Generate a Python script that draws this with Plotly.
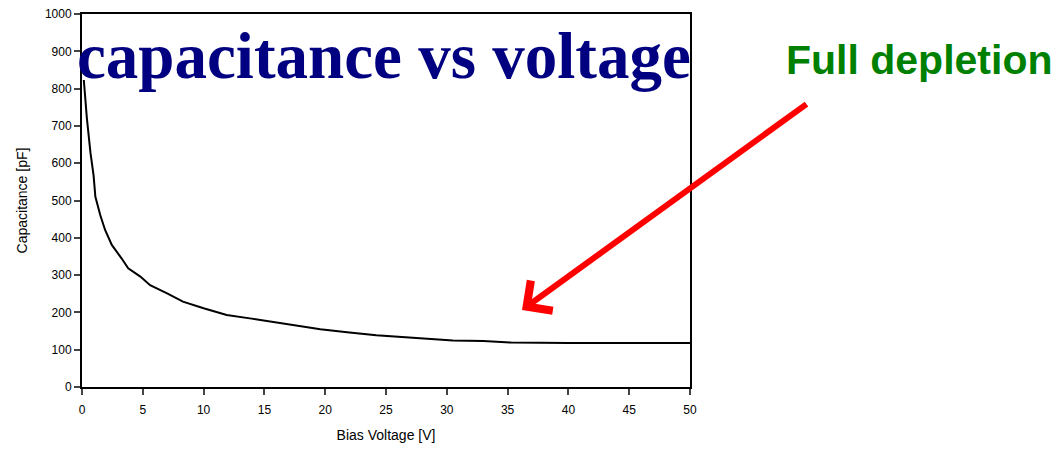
import plotly.graph_objects as go

bias_voltage = [0.15, 0.4, 0.7, 0.95, 1.1, 1.5, 1.9, 2.45, 3.25, 3.8, 4.8, 5.6, 7.0, 8.3, 10.0, 11.9,
                13.8, 16.0, 17.6, 19.6, 21.8, 24.2, 27.2, 30.5, 33.0, 35.3, 40.0, 45.0, 50.0]
capacitance = [823, 721, 627, 568, 510, 461, 421, 381, 345, 318, 296, 273, 251, 229, 211, 193,
               184, 173, 164, 155, 147, 139, 132, 125, 123, 119, 118, 118, 118]

x_ticks = list(range(0, 51, 5))
y_ticks = list(range(0, 1001, 100))

fig = go.Figure()
fig.add_trace(go.Scatter(x=bias_voltage, y=capacitance, mode="lines",
                         line=dict(color="black", width=2), showlegend=False))

fig.update_layout(
    width=1062, height=449,
    margin=dict(l=82, r=372, t=14, b=62),
    paper_bgcolor="white", plot_bgcolor="white",
    font=dict(family="Arial, Liberation Sans", color="black", size=12),
    xaxis=dict(range=[0, 50], tickvals=x_ticks, ticks="outside", ticklen=6, tickwidth=1.5,
               showline=True, linecolor="black", linewidth=2, mirror=True, showgrid=False,
               zeroline=False, ticklabelstandoff=5, automargin=False,
               title=dict(text="Bias Voltage [V]", font=dict(size=14), standoff=14),
               tickfont=dict(size=12)),
    yaxis=dict(range=[0, 1000], tickvals=y_ticks, ticks="outside", ticklen=6, tickwidth=1.5,
               showline=True, linecolor="black", linewidth=2, mirror=True, showgrid=False,
               zeroline=False, automargin=False,
               title=dict(text="Capacitance [pF]", font=dict(size=14), standoff=14),
               tickfont=dict(size=12)),
)

fig.add_annotation(text="<b>capacitance vs voltage</b>", xref="paper", yref="paper",
                   x=0.497, y=0.888, xanchor="center", yanchor="middle", showarrow=False,
                   font=dict(family="Liberation Serif, Times New Roman", size=65, color="#000080"))

fig.add_annotation(text="<b>Full depletion</b>", xref="paper", yref="paper",
                   x=1.3766, y=0.876, xanchor="center", yanchor="middle",
                   showarrow=False,
                   font=dict(family="Arial, Liberation Sans", size=41, color="#008000"))

fig.add_annotation(x=(522 - 82) / 608 * 50, y=(387 - 310) / 373 * 1000, xref="x", yref="y",
                   ax=286, ay=-207, axref="pixel", ayref="pixel", text="", showarrow=True,
                   arrowhead=4, arrowsize=1.2, arrowwidth=6, arrowcolor="#ff0000")

fig.write_html("out.html")
